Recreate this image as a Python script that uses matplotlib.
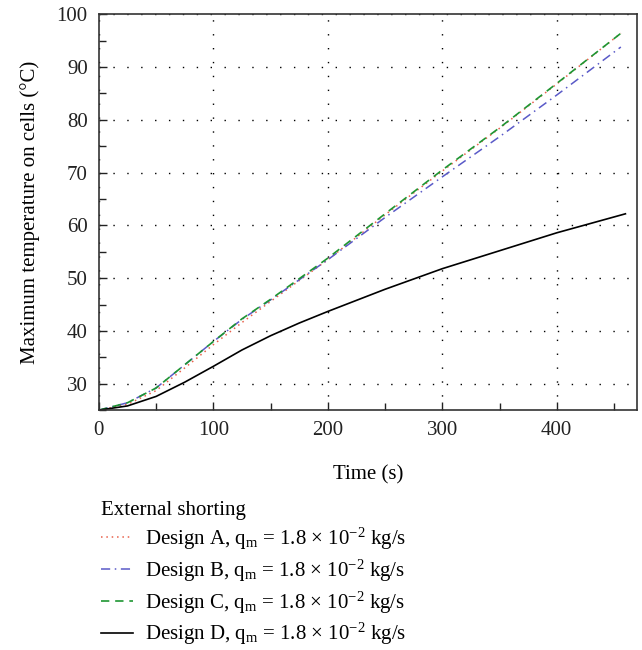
#!/usr/bin/env python3

# plot.py

# maximum cell temperature during external shorting, four designs

import matplotlib
matplotlib.use("Agg")
import matplotlib.pyplot as plt
from matplotlib.ticker import MultipleLocator


plt.rcParams['font.family'] = ['Liberation Serif', 'DejaVu Serif']
plt.rcParams['mathtext.fontset'] = 'custom'
plt.rcParams['mathtext.rm'] = 'Liberation Serif'
plt.rcParams['mathtext.it'] = 'Liberation Serif:italic'


# data

time_abc = [0, 25, 50, 75, 100, 125, 150, 200, 250, 300, 350, 400, 456]
temp_a = [25, 26.1, 28.7, 33.0, 37.4, 41.6, 45.6, 53.5, 62.0, 70.3, 78.4, 86.8, 96.4]
temp_b = [25, 26.4, 29.2, 33.6, 38.0, 42.2, 45.9, 53.5, 61.5, 69.2, 76.8, 84.7, 93.8]
temp_c = [25, 26.4, 29.2, 33.6, 38.0, 42.3, 46.0, 53.8, 62.2, 70.5, 78.5, 86.9, 96.4]

time_d = [0, 25, 50, 75, 100, 125, 150, 175, 200, 250, 300, 350, 400, 460]
temp_d = [25, 25.8, 27.6, 30.3, 33.3, 36.4, 39.1, 41.5, 43.7, 47.9, 51.8, 55.2, 58.6, 62.2]

labels = [r"Design %s, q$_\mathrm{m}$ = 1.8 $\times$ 10$^{-2}$ kg/s" % d for d in "ABCD"]


# figure

fig = plt.figure(figsize=(6.42, 6.5), dpi=100)
ax = fig.add_axes([0.154, 0.369, 0.838, 0.609])

ax.plot(time_abc, temp_a, color="#e8604a", linestyle=(0, (1, 2.5)), lw=1.1, label=labels[0])
ax.plot(time_abc, temp_b, color="#5a5ac8", linestyle=(0, (6, 3, 1, 3)), lw=1.1, label=labels[1])
ax.plot(time_abc, temp_c, color="#1e9632", linestyle=(0, (5, 3.5)), lw=1.2, label=labels[2])
ax.plot(time_d, temp_d, color="black", linestyle="-", lw=1.2, label=labels[3])

ax.set_xlim(0, 470)
ax.set_ylim(25, 100)
ax.xaxis.set_major_locator(MultipleLocator(100))
ax.xaxis.set_minor_locator(MultipleLocator(50))
ax.yaxis.set_major_locator(MultipleLocator(10))
ax.yaxis.set_minor_locator(MultipleLocator(5))
ax.set_yticks([30, 40, 50, 60, 70, 80, 90, 100])

ax.tick_params(which="both", direction="in", top=False, right=False, labelsize=15, colors="#222222")
ax.tick_params(which="major", length=6, width=1, pad=8)
ax.tick_params(which="minor", length=5, width=1)

ax.grid(True, which="major", color="black", linestyle=(0, (1, 9)), linewidth=1)

for s in ax.spines.values():
    s.set_color("#333333")
    s.set_linewidth(1.2)

ax.set_xlabel("Time (s)", fontsize=15, labelpad=18)
ax.set_ylabel("Maximum temperature on cells (°C)", fontsize=15, labelpad=12)


# legend below the axes

leg = fig.legend(loc="upper left", bbox_to_anchor=(0.145, 0.242), frameon=False,
                 title="External shorting", title_fontsize=15, fontsize=15,
                 alignment="left", handlelength=1.5, handletextpad=0.6,
                 labelspacing=0.27, borderaxespad=0)


plt.savefig("out.png", dpi=100)
